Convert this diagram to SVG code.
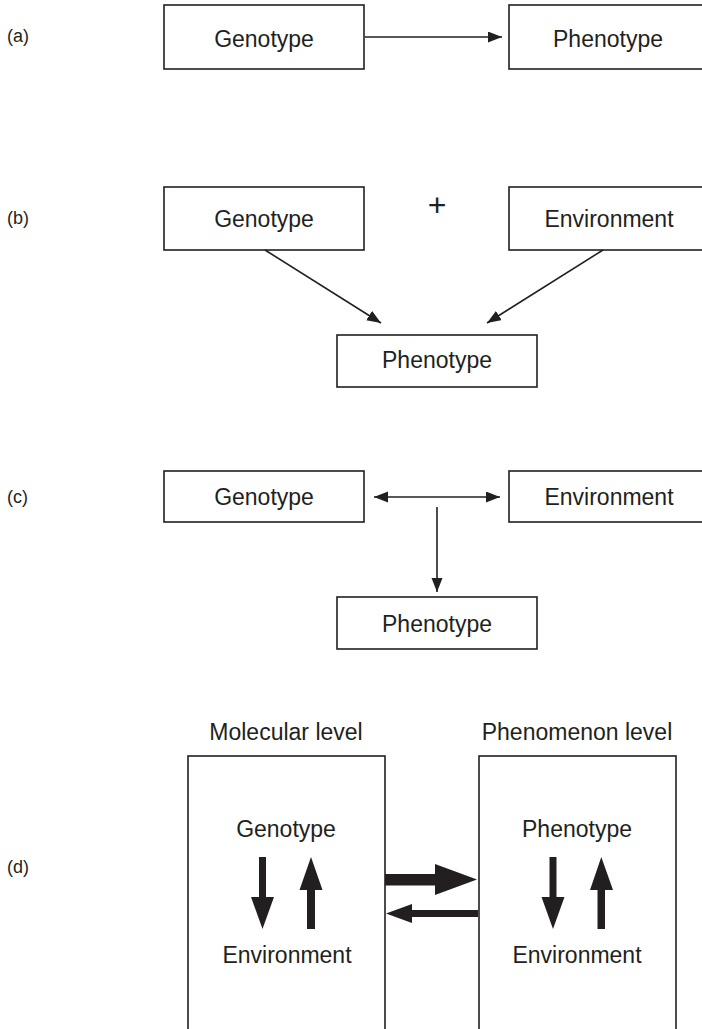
<svg xmlns="http://www.w3.org/2000/svg" width="702" height="1029" viewBox="0 0 702 1029">
<style>
.box{fill:#fff;stroke:#231f20;stroke-width:1.6}
.t{font-family:"Liberation Sans",Arial,sans-serif;font-size:23px;fill:#231f20;text-anchor:middle}
.lab{font-family:"Liberation Sans",Arial,sans-serif;font-size:18px;fill:#231f20}
.ln{stroke:#231f20;stroke-width:1.6;fill:none}
.fat{fill:#231f20;stroke:none}
</style>
<defs>
<marker id="ah" markerUnits="userSpaceOnUse" markerWidth="15" markerHeight="12" refX="14" refY="5.5" orient="auto-start-reverse">
<path d="M0,0 L14,5.5 L0,11 z" fill="#231f20"/>
</marker>
</defs>
<rect width="702" height="1029" fill="#fff"/>
<g id="labels">
<text class="lab" x="7" y="42">(a)</text>
<text class="lab" x="7" y="224">(b)</text>
<text class="lab" x="7" y="503">(c)</text>
<text class="lab" x="7" y="873">(d)</text>
</g>
<g id="a-genotype"><rect class="box" x="164" y="5" width="200" height="64"/><text class="t" x="264" y="47">Genotype</text></g>
<g id="a-phenotype"><rect class="box" x="509" y="5" width="200" height="64"/><text class="t" x="608" y="47">Phenotype</text></g>
<g id="b-genotype"><rect class="box" x="164" y="187" width="200" height="63"/><text class="t" x="264" y="227">Genotype</text></g>
<g id="b-plus"><text class="t" x="437" y="216" style="font-size:32px">+</text></g>
<g id="b-environment"><rect class="box" x="509" y="187" width="200" height="63"/><text class="t" x="609" y="227">Environment</text></g>
<g id="b-phenotype"><rect class="box" x="337" y="335" width="200" height="52"/><text class="t" x="437" y="368">Phenotype</text></g>
<g id="c-genotype"><rect class="box" x="164" y="471" width="200" height="51"/><text class="t" x="264" y="505">Genotype</text></g>
<g id="c-environment"><rect class="box" x="509" y="471" width="200" height="51"/><text class="t" x="609" y="505">Environment</text></g>
<g id="c-phenotype"><rect class="box" x="337" y="597" width="200" height="52"/><text class="t" x="437" y="632">Phenotype</text></g>
<g id="d-molecular">
<text class="t" x="286" y="740">Molecular level</text>
<rect class="box" x="188" y="756" width="197" height="290"/>
<text class="t" x="286" y="837">Genotype</text>
<text class="t" x="287" y="963">Environment</text>
</g>
<g id="d-phenomenon">
<text class="t" x="577" y="740">Phenomenon level</text>
<rect class="box" x="479" y="756" width="197" height="290"/>
<text class="t" x="577" y="837">Phenotype</text>
<text class="t" x="577" y="963">Environment</text>
</g>
<g id="connectors">
<line class="ln" x1="365" y1="37" x2="502" y2="37" marker-end="url(#ah)"/>
<line class="ln" x1="265" y1="250" x2="381" y2="323" marker-end="url(#ah)"/>
<line class="ln" x1="603" y1="250" x2="487" y2="323" marker-end="url(#ah)"/>
<line class="ln" x1="374" y1="497" x2="500" y2="497" marker-start="url(#ah)" marker-end="url(#ah)"/>
<line class="ln" x1="437" y1="507" x2="437" y2="592" marker-end="url(#ah)"/>
<polygon class="fat" points="259,857 266,857 266,897 274,897 262.5,929 251,897 259,897"/>
<polygon class="fat" points="307,929 315,929 315,890 322.5,890 311,857 299.5,890 307,890"/>
<polygon class="fat" points="549.5,857 556.5,857 556.5,897 564.5,897 553,929 541.5,897 549.5,897"/>
<polygon class="fat" points="597.5,929 605,929 605,890 613,890 601.3,857 590,890 597.5,890"/>
<polygon class="fat" points="385,874 435,874 435,864 477,879.5 435,895 435,885.5 385,885.5"/>
<polygon class="fat" points="478,910 412,910 412,904 386,913.5 412,923 412,917 478,917"/>
</g>
</svg>
